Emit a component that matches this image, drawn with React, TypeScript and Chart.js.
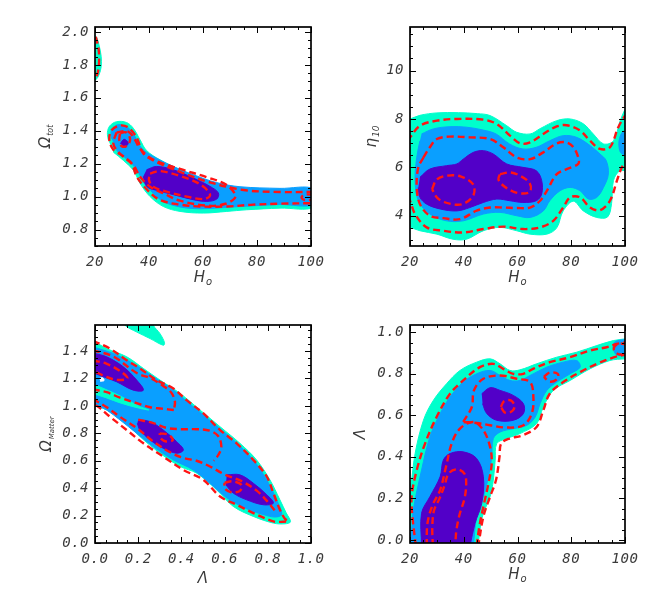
import React, { useEffect, useRef } from 'react';
import { Chart, registerables } from 'chart.js';

Chart.register(...registerables);

type Pt = [number, number];

const CYAN = '#00FFCC';
const BLUE = '#0A9FFF';
const PURPLE = '#5200C8';
const RED = '#FF1414';

// ---------------- Panel 1: Omega_tot vs H_o ----------------
const p1XRange: Pt = [20, 100];
const p1YRange: Pt = [0.7, 2.03];
const p1XLabels = ['20', '40', '60', '80', '100'];
const p1YLabels = ['0.8', '1.0', '1.2', '1.4', '1.6', '1.8', '2.0'];
const p1Cyan: Pt[] = [[24.9, 1.345], [24.6, 1.39], [25.5, 1.43], [28, 1.455], [31.7, 1.45], [34.2, 1.415], [36.7, 1.345], [39.1, 1.28], [44, 1.224], [51.5, 1.163], [58.9, 1.113], [67.5, 1.065], [76.2, 1.045], [88.5, 1.035], [101, 1.035], [101, 0.935], [88.5, 0.93], [76.2, 0.92], [68.8, 0.91], [60.1, 0.9], [51.5, 0.91], [45.3, 0.94], [40.4, 1.0], [36.7, 1.08], [34.2, 1.16], [30.5, 1.22], [26.8, 1.27]];
const p1CyanEdge: Pt[] = [[19, 1.99], [20.5, 1.97], [21.5, 1.92], [22.3, 1.85], [22.3, 1.79], [21.5, 1.74], [20.3, 1.71], [19, 1.71]];
const p1Blue: Pt[] = [[26.2, 1.35], [26.0, 1.4], [27.5, 1.43], [29.3, 1.437], [32.3, 1.418], [34.8, 1.365], [37.3, 1.294], [41.6, 1.244], [49, 1.183], [56.4, 1.133], [65.1, 1.085], [73.7, 1.06], [88.5, 1.05], [101, 1.048], [101, 0.952], [88.5, 0.952], [76.2, 0.942], [66.3, 0.932], [58.9, 0.926], [51.5, 0.937], [45.3, 0.97], [41.6, 1.02], [37.9, 1.09], [35.4, 1.165], [31.7, 1.228], [28, 1.28]];
const p1PurpleSmall: Pt[] = [[29.4, 1.322], [30.8, 1.348], [32.3, 1.325], [31.0, 1.296]];
const p1PurpleBig: Pt[] = [[39.1, 1.163], [42.8, 1.183], [49, 1.163], [56.4, 1.113], [62.6, 1.062], [65.7, 1.022], [65.1, 0.985], [61.4, 0.971], [56.4, 0.981], [49, 1.012], [42.8, 1.038], [39.1, 1.062], [37.9, 1.123]];
const p1Line9: Pt[] = [[101, 1.028], [88.5, 1.028], [75, 1.04], [61.4, 1.092], [51.5, 1.15], [42.8, 1.21], [37.9, 1.262], [35.4, 1.36], [32.3, 1.42], [29.3, 1.432], [26.2, 1.405], [25.3, 1.345], [26.8, 1.285], [30.5, 1.245], [33.6, 1.2], [35.4, 1.123], [39.1, 1.045], [44, 0.98], [51.5, 0.951], [58.9, 0.94], [68.8, 0.94], [78.6, 0.951], [88.5, 0.957], [101, 0.96]];
const p1Line4: Pt[] = [[28, 1.39], [32.3, 1.395], [34.8, 1.345], [36.7, 1.29], [41.6, 1.225], [51.5, 1.168], [61.4, 1.118], [68.8, 1.07], [72, 1.0], [68, 0.955], [61.4, 0.945], [51.5, 0.975], [45.3, 1.02], [40.4, 1.06], [36.7, 1.12], [34.2, 1.19], [29.3, 1.26], [26.8, 1.32], [28, 1.39]];
const p1Line1: Pt[] = [[40.4, 1.14], [44, 1.155], [51.5, 1.125], [58.9, 1.075], [62.6, 1.012], [60.5, 0.985], [54, 1.0], [46.5, 1.03], [41.6, 1.06], [40.0, 1.1], [40.4, 1.14]];
const p1Line1b: Pt[] = [[29.3, 1.385], [31.5, 1.39], [33, 1.35], [32, 1.31], [30, 1.305], [29, 1.34], [29.3, 1.385]];
const p1LineEdge: Pt[] = [[20.3, 1.97], [21.3, 1.9], [21.5, 1.82], [21, 1.75], [20, 1.71]];
const p1LineRight: Pt[] = [[101, 1.01], [97.5, 1.012], [96.5, 0.995], [97.5, 0.98], [101, 0.98]];

// ---------------- Panel 2: eta_10 vs H_o ----------------
const p2XRange: Pt = [20, 100];
const p2YRange: Pt = [2.75, 11.8];
const p2XLabels = ['20', '40', '60', '80', '100'];
const p2YLabels = ['4', '6', '8', '10'];
const p2Cyan: Pt[] = [[19, 8.0], [20, 8.0], [23.7, 8.15], [30, 8.25], [38, 8.26], [45, 8.22], [49.8, 8.14], [56, 7.72], [59.7, 7.45], [64.7, 7.38], [68.4, 7.6], [74.6, 7.93], [79.6, 8.0], [84.5, 7.8], [88.2, 7.38], [92, 6.97], [95.7, 7.1], [98.2, 7.93], [100, 8.4], [101, 8.6], [101, 5.9], [98, 5.86], [95.7, 5.45], [95, 4.5], [93.5, 3.95], [89.5, 3.93], [84.5, 4.2], [80.8, 4.6], [77, 4.2], [74.6, 3.5], [70.9, 3.24], [64.7, 3.24], [59.7, 3.38], [53.5, 3.52], [47.3, 3.38], [41, 3.03], [36, 3.03], [30, 3.24], [23.7, 3.38], [20, 3.52], [19, 3.52]];
const p2Blue: Pt[] = [[24.3, 7.38], [28.7, 7.59], [34.9, 7.68], [41, 7.66], [47.3, 7.54], [52, 7.38], [57, 6.97], [62, 6.76], [67, 6.83], [72, 7.1], [77, 7.31], [82, 7.24], [87, 6.9], [90.7, 6.55], [93, 6.28], [93.8, 5.72], [92, 5.17], [89.5, 4.76], [86.4, 4.69], [83.3, 5.03], [79.6, 5.17], [75.8, 5.03], [72, 4.62], [69.6, 4.2], [64.7, 3.93], [59.7, 4.0], [53.5, 4.14], [47.3, 4.07], [39.8, 3.79], [33.6, 3.79], [27.4, 4.07], [23.1, 4.62], [21.9, 5.45], [22.5, 6.41], [23.7, 7.1]];
const p2BlueRight: Pt[] = [[101, 7.55], [99, 7.45], [97.8, 7.1], [98, 6.7], [99, 6.55], [101, 6.5]];
const p2Purple: Pt[] = [[23.7, 5.59], [27.4, 5.93], [33.6, 6.07], [37.4, 6.14], [39.8, 6.34], [43.6, 6.62], [47.3, 6.69], [51, 6.55], [56, 6.14], [62, 6.0], [67, 5.86], [69, 5.45], [69, 4.9], [67, 4.62], [62, 4.55], [57.2, 4.62], [52.3, 4.69], [47.3, 4.55], [42.3, 4.34], [37.4, 4.2], [31.2, 4.28], [26.2, 4.48], [23.7, 4.76], [23.1, 5.17]];
const p2Line9Top: Pt[] = [[19, 7.1], [20, 7.24], [23.7, 7.72], [30, 7.93], [37.4, 8.0], [47.3, 7.97], [52.3, 7.79], [57.2, 7.31], [61, 6.99], [64.7, 7.03], [69.6, 7.38], [74.6, 7.69], [78.3, 7.74], [83.3, 7.52], [87, 7.1], [90.7, 6.76], [94.4, 6.83], [97.5, 7.66], [100, 8.14], [101, 8.3]];
const p2Line9Bottom: Pt[] = [[19, 4.8], [20, 4.62], [21.9, 4.07], [26.2, 3.52], [32.4, 3.38], [39.8, 3.31], [47.3, 3.45], [54.7, 3.55], [62, 3.45], [68.4, 3.52], [73.3, 3.79], [77, 4.34], [79.6, 4.76], [83.3, 4.76], [87, 4.34], [90.7, 4.23], [94.4, 4.62], [97, 5.45], [98.8, 6.0], [100, 6.14], [101, 6.2]];
const p2Line4: Pt[] = [[25, 6.41], [27.4, 6.83], [30, 7.17], [34.9, 7.27], [42.3, 7.24], [49.8, 7.17], [54.7, 6.83], [59.7, 6.41], [64.7, 6.34], [69.6, 6.62], [74.6, 6.99], [78.3, 7.03], [80.8, 6.83], [82.6, 6.41], [82.6, 6.14], [78.3, 5.93], [74.6, 5.72], [70.9, 5.03], [68.4, 4.62], [64.7, 4.34], [59.7, 4.32], [54.7, 4.34], [49.8, 4.34], [44.8, 4.21], [38.6, 3.86], [32.4, 3.9], [27.4, 4.0], [23.7, 4.48], [22.5, 5.17], [23.1, 6.0], [25, 6.41]];
const p2Line1a: Pt[] = [[28.2, 5.1], [30, 5.5], [34, 5.66], [39, 5.62], [43.5, 5.3], [43.6, 4.85], [40, 4.5], [35.5, 4.48], [30.5, 4.7], [28.2, 5.1]];
const p2Line1b: Pt[] = [[53.5, 5.72], [57.2, 5.79], [61, 5.65], [64.5, 5.35], [64.7, 5.0], [61.6, 4.92], [57.8, 5.03], [54, 5.31], [52.9, 5.52], [53.5, 5.72]];

// ---------------- Panel 3: Omega_Matter vs Lambda ----------------
const p3XRange: Pt = [0, 1];
const p3YRange: Pt = [0, 1.59];
const p3XLabels = ['0.0', '0.2', '0.4', '0.6', '0.8', '1.0'];
const p3YLabels = ['0.0', '0.2', '0.4', '0.6', '0.8', '1.0', '1.2', '1.4'];
const p3Cyan: Pt[] = [[-0.01, 1.47], [0, 1.467], [0.054, 1.418], [0.147, 1.358], [0.224, 1.273], [0.301, 1.188], [0.394, 1.091], [0.486, 0.97], [0.579, 0.848], [0.671, 0.727], [0.748, 0.606], [0.81, 0.46], [0.856, 0.315], [0.885, 0.22], [0.905, 0.155], [0.88, 0.14], [0.826, 0.145], [0.733, 0.194], [0.64, 0.267], [0.563, 0.388], [0.471, 0.509], [0.394, 0.558], [0.301, 0.655], [0.208, 0.776], [0.131, 0.897], [0.054, 0.97], [0, 1.006], [-0.01, 1.006]];
const p3CyanTop: Pt[] = [[0.139, 1.62], [0.139, 1.588], [0.193, 1.539], [0.255, 1.491], [0.316, 1.442], [0.322, 1.46], [0.301, 1.527], [0.27, 1.588], [0.27, 1.62]];
const p3Blue: Pt[] = [[-0.01, 1.43], [0.085, 1.382], [0.177, 1.309], [0.27, 1.212], [0.363, 1.115], [0.455, 0.994], [0.548, 0.873], [0.64, 0.752], [0.733, 0.606], [0.795, 0.46], [0.841, 0.315], [0.865, 0.21], [0.84, 0.19], [0.795, 0.2], [0.702, 0.25], [0.61, 0.33], [0.532, 0.436], [0.455, 0.533], [0.363, 0.606], [0.27, 0.703], [0.193, 0.8], [0.116, 0.897], [0.054, 0.97], [0.023, 0.994], [-0.01, 1.018]];
const p3CyanStreak: Pt[] = [[-0.01, 1.16], [0.05, 1.12], [0.12, 1.07], [0.2, 1.0], [0.25, 0.97], [0.2, 0.985], [0.12, 1.02], [0.05, 1.06], [-0.01, 1.09]];
const p3WhiteSpot: Pt[] = [[0.02, 1.2], [0.035, 1.205], [0.042, 1.185], [0.025, 1.178]];
const p3Purple1: Pt[] = [[-0.01, 1.385], [0, 1.382], [0.054, 1.358], [0.131, 1.285], [0.193, 1.188], [0.224, 1.115], [0.177, 1.115], [0.1, 1.176], [0.039, 1.212], [0, 1.236], [-0.01, 1.24]];
const p3Purple2: Pt[] = [[0.2, 0.897], [0.255, 0.885], [0.316, 0.824], [0.378, 0.739], [0.409, 0.679], [0.378, 0.655], [0.316, 0.691], [0.255, 0.752], [0.208, 0.824], [0.196, 0.873]];
const p3Purple3: Pt[] = [[0.61, 0.497], [0.671, 0.497], [0.733, 0.436], [0.795, 0.352], [0.826, 0.291], [0.779, 0.279], [0.702, 0.315], [0.64, 0.364], [0.606, 0.424]];
const p3Line9: Pt[] = [[-0.01, 1.47], [0, 1.467], [0.069, 1.418], [0.147, 1.333], [0.208, 1.273], [0.285, 1.188], [0.363, 1.127], [0.424, 1.042], [0.502, 0.945], [0.579, 0.824], [0.656, 0.727], [0.733, 0.606], [0.795, 0.485], [0.826, 0.364], [0.856, 0.242], [0.88, 0.175], [0.895, 0.16], [0.87, 0.155], [0.826, 0.158], [0.733, 0.218], [0.656, 0.279], [0.579, 0.339], [0.502, 0.46], [0.409, 0.533], [0.316, 0.63], [0.224, 0.727], [0.147, 0.824], [0.069, 0.921], [0.015, 0.994], [-0.01, 1.01]];
const p3Line4Top: Pt[] = [[-0.01, 1.405], [0.085, 1.36], [0.193, 1.24], [0.26, 1.2], [0.316, 1.145], [0.354, 1.095], [0.37, 1.03], [0.365, 0.97]];
const p3Line4Mid: Pt[] = [[-0.01, 1.12], [0.054, 1.1], [0.116, 1.06], [0.193, 1.02], [0.255, 0.99], [0.31, 0.98], [0.365, 0.97]];
const p3Line4Cross: Pt[] = [[0.2, 0.9], [0.27, 0.875], [0.33, 0.84], [0.4, 0.83], [0.47, 0.83], [0.53, 0.82], [0.57, 0.78], [0.585, 0.7], [0.57, 0.64], [0.55, 0.6]];
const p3Line4Low: Pt[] = [[-0.01, 1.05], [0.054, 0.99], [0.116, 0.92], [0.2, 0.83], [0.27, 0.74], [0.35, 0.66], [0.41, 0.62], [0.47, 0.6], [0.53, 0.56], [0.6, 0.5], [0.68, 0.45], [0.75, 0.38], [0.8, 0.3], [0.84, 0.22]];
const p3Line1a: Pt[] = [[-0.01, 1.33], [0.05, 1.31], [0.12, 1.25], [0.15, 1.2], [0.1, 1.19], [0.04, 1.22], [-0.01, 1.26]];
const p3Line1b: Pt[] = [[0.3, 0.8], [0.34, 0.79], [0.36, 0.75], [0.33, 0.74], [0.3, 0.77], [0.3, 0.8]];
const p3Line1c: Pt[] = [[0.6, 0.44], [0.64, 0.45], [0.68, 0.42], [0.67, 0.38], [0.63, 0.37], [0.6, 0.4], [0.6, 0.44]];

// ---------------- Panel 4: Lambda vs H_o ----------------
const p4XRange: Pt = [20, 100];
const p4YRange: Pt = [-0.015, 1.035];
const p4XLabels = ['20', '40', '60', '80', '100'];
const p4YLabels = ['0.0', '0.2', '0.4', '0.6', '0.8', '1.0'];
const p4Cyan: Pt[] = [[19, -0.03], [19, 0.24], [20, 0.24], [21.9, 0.416], [25, 0.576], [28.7, 0.672], [33.6, 0.752], [38.6, 0.816], [44.8, 0.856], [49.8, 0.872], [53.5, 0.848], [57.2, 0.816], [60.9, 0.819], [67.1, 0.848], [74.6, 0.88], [82, 0.904], [89.5, 0.936], [95.7, 0.96], [100, 0.968], [101, 0.97], [101, 0.872], [100, 0.872], [94.4, 0.864], [87, 0.824], [79.6, 0.768], [73.3, 0.72], [69.6, 0.64], [67.1, 0.56], [60.9, 0.512], [55.9, 0.488], [52.3, 0.464], [51.7, 0.384], [51, 0.288], [49.8, 0.208], [47.3, 0.128], [46, 0.048], [45.4, -0.03]];
const p4Blue: Pt[] = [[19.5, -0.03], [20.6, 0.05], [21.2, 0.144], [24.3, 0.336], [27.4, 0.496], [31.2, 0.608], [34.9, 0.688], [39.8, 0.76], [44.8, 0.8], [49.8, 0.816], [53.5, 0.792], [57.2, 0.768], [60.9, 0.768], [64.7, 0.792], [70.9, 0.832], [77, 0.856], [82, 0.864], [83.3, 0.832], [79.6, 0.8], [74.6, 0.76], [70.9, 0.72], [68.4, 0.656], [66.6, 0.592], [63.5, 0.552], [58.6, 0.536], [53.6, 0.52], [51, 0.488], [50.4, 0.4], [49.2, 0.304], [47.3, 0.208], [44.8, 0.112], [43.6, -0.03]];
const p4BlueRight: Pt[] = [[101, 0.965], [98, 0.962], [96, 0.95], [95.7, 0.92], [97, 0.89], [101, 0.888]];
const p4Purple1: Pt[] = [[24.3, -0.03], [24.3, 0.128], [27.4, 0.208], [31.2, 0.304], [32.4, 0.384], [34.9, 0.416], [39.8, 0.424], [44.8, 0.392], [47.3, 0.304], [46.7, 0.176], [44.2, 0.08], [42.3, -0.03]];
const p4Purple2: Pt[] = [[46.7, 0.704], [49.8, 0.733], [53.5, 0.72], [58.4, 0.696], [62.2, 0.656], [62.2, 0.608], [58.4, 0.576], [52.3, 0.576], [48.6, 0.608], [47, 0.656]];
const p4Line9Upper: Pt[] = [[22.2, -0.03], [21, 0.1], [20.6, 0.208], [22.5, 0.336], [25.6, 0.464], [29.9, 0.592], [34.9, 0.704], [39.8, 0.768], [46, 0.832], [51, 0.848], [54.7, 0.824], [58.4, 0.8], [62.2, 0.8], [65.8, 0.824], [72, 0.856], [79.6, 0.88], [87, 0.912], [93.2, 0.928], [96.9, 0.944], [101, 0.952]];
const p4Line9Lower: Pt[] = [[101, 0.895], [96, 0.88], [89.5, 0.848], [83.3, 0.808], [77, 0.76], [72, 0.704], [69.6, 0.624], [67.1, 0.544], [62, 0.504], [57, 0.488], [53.9, 0.464], [53.3, 0.4], [52, 0.288], [49.8, 0.208], [47.3, 0.112], [45.4, -0.03]];
const p4Line4Lower: Pt[] = [[26.2, -0.03], [26.5, 0.08], [28.4, 0.168], [31.2, 0.24], [33.4, 0.352], [35.5, 0.464], [38.6, 0.536], [43.6, 0.568], [47.3, 0.528], [49.8, 0.448], [50.4, 0.368], [49.2, 0.272], [47.3, 0.16], [45.8, 0.064], [44.8, -0.03]];
const p4Line4Upper: Pt[] = [[39.8, 0.568], [43, 0.64], [43.8, 0.72], [47.3, 0.776], [53.5, 0.792], [59.7, 0.776], [64.7, 0.76], [65.9, 0.688], [65.3, 0.608], [62.2, 0.552], [56, 0.541], [49.8, 0.552], [44.8, 0.563], [39.8, 0.568]];
const p4Line1Lower: Pt[] = [[28.5, -0.03], [28.3, 0.06], [28.9, 0.14], [31, 0.2], [32.8, 0.26], [34.4, 0.32], [37.5, 0.34], [40.3, 0.318], [40.9, 0.27], [40.3, 0.2], [38.4, 0.12], [37.2, 0.04], [36.9, -0.03]];
const p4Line1Upper: Pt[] = [[53.8, 0.64], [55, 0.668], [57.5, 0.672], [58.9, 0.645], [58, 0.62], [55.5, 0.612], [53.8, 0.64]];
const p4Line1Mid: Pt[] = [[69.8, 0.785], [72, 0.806], [75, 0.8], [74.8, 0.775], [72, 0.762], [69.8, 0.785]];
const p4LineRight: Pt[] = [[101, 0.94], [97.5, 0.945], [95.8, 0.92], [97.5, 0.895], [101, 0.895]];

// ---------------- helpers ----------------
const toXY = (pts: Pt[]) => pts.map(([x, y]) => ({ x, y }));

const fillSet = (pts: Pt[], color: string, order: number) => ({
  data: toXY(pts),
  showLine: true,
  fill: 'shape',
  backgroundColor: color,
  borderColor: color,
  borderWidth: 1,
  pointRadius: 0,
  tension: 0.35,
  order,
});

const lineSet = (pts: Pt[]) => ({
  data: toXY(pts),
  showLine: true,
  fill: false,
  borderColor: RED,
  borderWidth: 2.4,
  borderDash: [7, 4],
  pointRadius: 0,
  tension: 0.35,
  order: 0,
});

interface PanelCfg {
  box: { left: number; top: number; right: number; bottom: number };
  xRange: Pt;
  yRange: Pt;
  xLabels: string[];
  yLabels: string[];
  xMinor: number;
  yMinor: number;
  xTitle: [string, string];
  yTitle: [string, string];
  yTitleX: number;
  yTitleSub: number;
  xTitleGap: number;
  datasets: any[];
}

const W = 654;
const H = 599;

const panels: PanelCfg[] = [
  {
    box: { left: 95, top: 27, right: 311, bottom: 246 },
    xRange: p1XRange, yRange: p1YRange, xLabels: p1XLabels, yLabels: p1YLabels,
    xMinor: 5, yMinor: 0.05,
    xTitle: ['H', 'o'], yTitle: ['Ω', 'tot'], yTitleX: 50, yTitleSub: 8, xTitleGap: 36,
    datasets: [
      lineSet(p1Line9), lineSet(p1Line4), lineSet(p1Line1), lineSet(p1Line1b), lineSet(p1LineEdge), lineSet(p1LineRight),
      fillSet(p1PurpleSmall, PURPLE, 2), fillSet(p1PurpleBig, PURPLE, 2),
      fillSet(p1Blue, BLUE, 3),
      fillSet(p1Cyan, CYAN, 4), fillSet(p1CyanEdge, CYAN, 4),
    ],
  },
  {
    box: { left: 410, top: 27, right: 625, bottom: 246 },
    xRange: p2XRange, yRange: p2YRange, xLabels: p2XLabels, yLabels: p2YLabels,
    xMinor: 5, yMinor: 0.5,
    xTitle: ['H', 'o'], yTitle: ['η', '10'], yTitleX: 376, yTitleSub: 9, xTitleGap: 36,
    datasets: [
      lineSet(p2Line9Top), lineSet(p2Line9Bottom), lineSet(p2Line4), lineSet(p2Line1a), lineSet(p2Line1b),
      fillSet(p2Purple, PURPLE, 2),
      fillSet(p2Blue, BLUE, 3), fillSet(p2BlueRight, BLUE, 3),
      fillSet(p2Cyan, CYAN, 4),
    ],
  },
  {
    box: { left: 95, top: 325, right: 311, bottom: 543 },
    xRange: p3XRange, yRange: p3YRange, xLabels: p3XLabels, yLabels: p3YLabels,
    xMinor: 0.05, yMinor: 0.05,
    xTitle: ['Λ', ''], yTitle: ['Ω', 'Matter'], yTitleX: 51, yTitleSub: 7, xTitleGap: 40,
    datasets: [
      lineSet(p3Line9), lineSet(p3Line4Top), lineSet(p3Line4Mid), lineSet(p3Line4Cross), lineSet(p3Line4Low),
      lineSet(p3Line1a), lineSet(p3Line1b), lineSet(p3Line1c),
      fillSet(p3Purple1, PURPLE, 2), fillSet(p3Purple2, PURPLE, 2), fillSet(p3Purple3, PURPLE, 2),
      fillSet(p3WhiteSpot, '#FFFFFF', 2.5), fillSet(p3CyanStreak, CYAN, 2.5),
      fillSet(p3Blue, BLUE, 3),
      fillSet(p3Cyan, CYAN, 4), fillSet(p3CyanTop, CYAN, 4),
    ],
  },
  {
    box: { left: 410, top: 325, right: 625, bottom: 543 },
    xRange: p4XRange, yRange: p4YRange, xLabels: p4XLabels, yLabels: p4YLabels,
    xMinor: 5, yMinor: 0.05,
    xTitle: ['H', 'o'], yTitle: ['Λ', ''], yTitleX: 365, yTitleSub: 8, xTitleGap: 36,
    datasets: [
      lineSet(p4Line9Upper), lineSet(p4Line9Lower), lineSet(p4Line4Lower), lineSet(p4Line4Upper),
      lineSet(p4Line1Lower), lineSet(p4Line1Upper), lineSet(p4Line1Mid), lineSet(p4LineRight),
      fillSet(p4Purple1, PURPLE, 2), fillSet(p4Purple2, PURPLE, 2),
      fillSet(p4Blue, BLUE, 3), fillSet(p4BlueRight, BLUE, 3),
      fillSet(p4Cyan, CYAN, 4),
    ],
  },
];

const TICK_FONT = 'italic 14px "DejaVu Sans Mono", monospace';
const TITLE_FONT = 'italic 15px "DejaVu Sans", sans-serif';
const INK = '#3a3a3a';

function drawSubText(ctx: CanvasRenderingContext2D, main: string, sub: string, subSize: number, cx: number, by: number) {
  ctx.font = TITLE_FONT;
  const w1 = ctx.measureText(main).width;
  ctx.font = `italic ${subSize}px "DejaVu Sans", sans-serif`;
  const w2 = sub ? ctx.measureText(sub).width + 1 : 0;
  const x0 = cx - (w1 + w2) / 2;
  ctx.textAlign = 'left';
  ctx.textBaseline = 'alphabetic';
  ctx.font = TITLE_FONT;
  ctx.fillText(main, x0, by);
  if (sub) {
    ctx.font = `italic ${subSize}px "DejaVu Sans", sans-serif`;
    ctx.fillText(sub, x0 + w1 + 1, by + 3);
  }
}

function makeAxesPlugin(cfg: PanelCfg) {
  return {
    id: 'idlAxes',
    afterDatasetsDraw(chart: any) {
      const ctx: CanvasRenderingContext2D = chart.ctx;
      const a = chart.chartArea;
      const xs = chart.scales.x;
      const ys = chart.scales.y;
      ctx.save();
      ctx.strokeStyle = '#000';
      ctx.lineWidth = 1;
      const seg = (x1: number, y1: number, x2: number, y2: number) => {
        ctx.beginPath();
        ctx.moveTo(x1, y1);
        ctx.lineTo(x2, y2);
        ctx.stroke();
      };
      const ticks = (scale: any, labels: string[], step: number, isX: boolean) => {
        const majors = labels.map(Number);
        const n0 = Math.ceil(scale.min / step - 1e-6);
        const n1 = Math.floor(scale.max / step + 1e-6);
        for (let n = n0; n <= n1; n++) {
          const v = n * step;
          const major = majors.some((m) => Math.abs(m - v) < step * 0.01);
          const len = major ? 6 : 3;
          const p = Math.round(scale.getPixelForValue(v)) + 0.5;
          if (isX) {
            seg(p, a.bottom, p, a.bottom - len);
            seg(p, a.top, p, a.top + len);
          } else {
            seg(a.left, p, a.left + len, p);
            seg(a.right, p, a.right - len, p);
          }
        }
      };
      ticks(xs, cfg.xLabels, cfg.xMinor, true);
      ticks(ys, cfg.yLabels, cfg.yMinor, false);
      ctx.lineWidth = 1.7;
      ctx.strokeRect(a.left, a.top, a.right - a.left, a.bottom - a.top);

      ctx.fillStyle = INK;
      ctx.font = TICK_FONT;
      (ctx as any).letterSpacing = '0.5px';
      ctx.textBaseline = 'middle';
      ctx.textAlign = 'center';
      cfg.xLabels.forEach((lab) => {
        ctx.fillText(lab, xs.getPixelForValue(Number(lab)), a.bottom + 16);
      });
      ctx.textAlign = 'right';
      cfg.yLabels.forEach((lab) => {
        ctx.fillText(lab, a.left - 6, ys.getPixelForValue(Number(lab)));
      });
      (ctx as any).letterSpacing = '0px';

      drawSubText(ctx, cfg.xTitle[0], cfg.xTitle[1], 10, (a.left + a.right) / 2, a.bottom + cfg.xTitleGap);
      ctx.save();
      ctx.translate(cfg.yTitleX, (a.top + a.bottom) / 2);
      ctx.rotate(-Math.PI / 2);
      drawSubText(ctx, cfg.yTitle[0], cfg.yTitle[1], cfg.yTitleSub, 0, 0);
      ctx.restore();
      ctx.restore();
    },
  };
}

function Panel({ cfg }: { cfg: PanelCfg }) {
  const ref = useRef<HTMLCanvasElement | null>(null);
  useEffect(() => {
    if (!ref.current) return;
    const b = cfg.box;
    const chart = new Chart(ref.current, {
      type: 'scatter',
      data: { datasets: cfg.datasets as any },
      options: {
        animation: false,
        responsive: false,
        devicePixelRatio: 1,
        layout: { padding: { left: b.left, top: b.top, right: W - b.right, bottom: H - b.bottom } },
        scales: {
          x: { type: 'linear', min: cfg.xRange[0], max: cfg.xRange[1], display: false },
          y: { type: 'linear', min: cfg.yRange[0], max: cfg.yRange[1], display: false },
        },
        plugins: { legend: { display: false }, tooltip: { enabled: false } },
        events: [],
      },
      plugins: [makeAxesPlugin(cfg)],
    } as any);
    return () => chart.destroy();
  }, [cfg]);
  return (
    <canvas
      ref={ref}
      width={W}
      height={H}
      style={{ position: 'absolute', left: 0, top: 0, width: W, height: H }}
    />
  );
}

export default function App() {
  return (
    <div style={{ position: 'absolute', left: 0, top: 0, width: W, height: H, background: '#fff' }}>
      {panels.map((p, i) => (
        <Panel key={i} cfg={p} />
      ))}
    </div>
  );
}
